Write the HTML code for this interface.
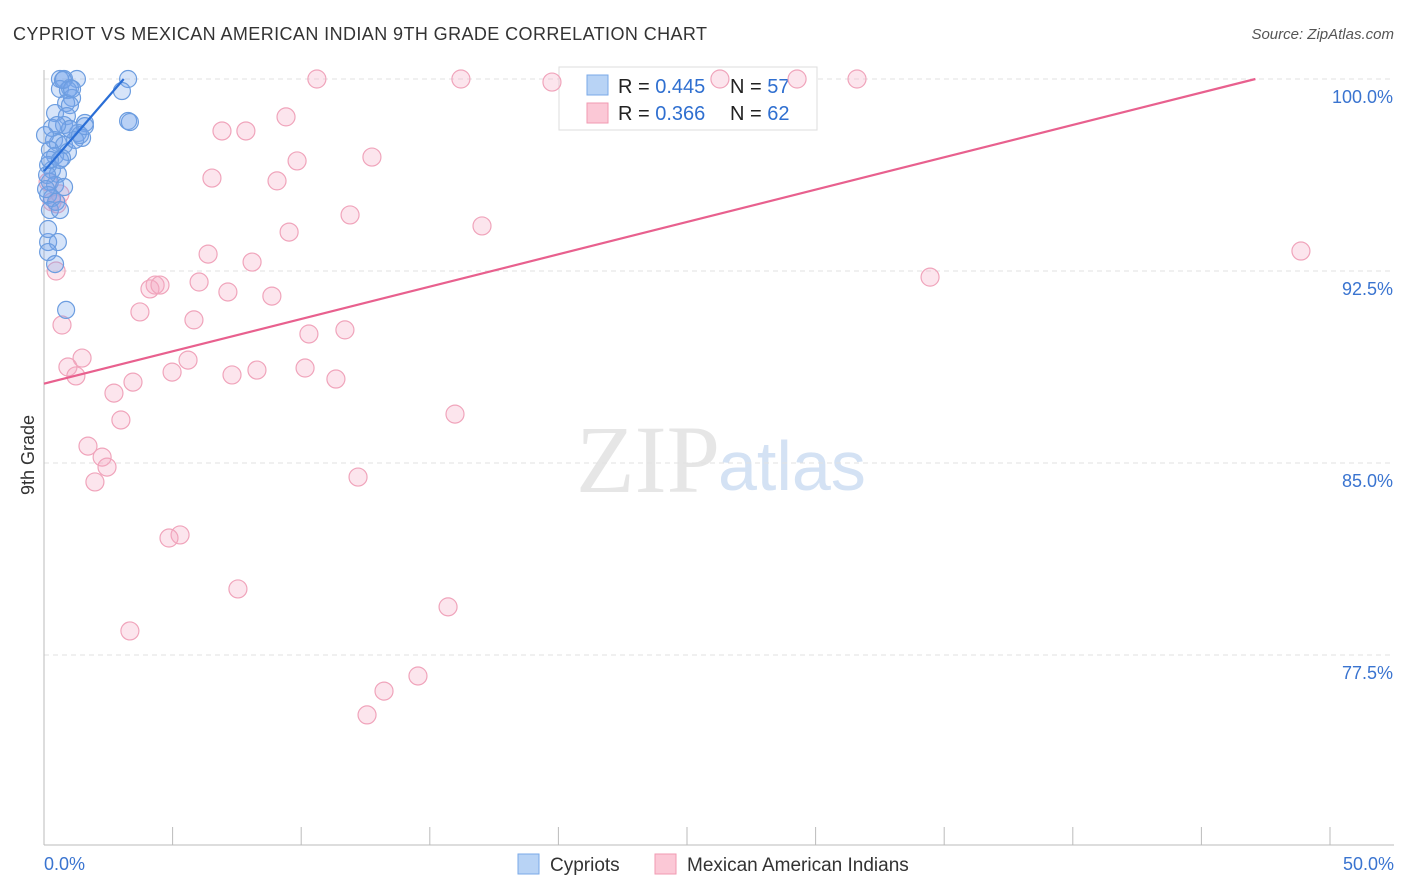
<!DOCTYPE html>
<html><head><meta charset="utf-8"><style>
body{margin:0;background:#fff;font-family:"Liberation Sans",sans-serif;}
#wrap{position:relative;width:1406px;height:892px;overflow:hidden;}
</style></head><body>
<div id="wrap">
<svg id="chart" width="1406" height="892" style="position:absolute;left:0;top:0;font-family:'Liberation Sans',sans-serif">
<text x="13" y="40" font-size="18" fill="#333" textLength="694">CYPRIOT VS MEXICAN AMERICAN INDIAN 9TH GRADE CORRELATION CHART</text>
<text x="1394" y="39" font-size="15" fill="#555" font-style="italic" text-anchor="end">Source: ZipAtlas.com</text>
<text x="720" y="492" font-size="96" fill="#e6e6e6" font-family="Liberation Serif,serif" text-anchor="end">ZIP</text>
<text x="718" y="490" font-size="70" fill="#d4e2f4">atlas</text>
<g id="grid"></g><g id="axes"></g>
<g>
<rect x="559" y="67" width="258" height="63" fill="#fff" stroke="#ddd"/>
<rect x="587" y="75" width="21" height="20" fill="#b8d3f5" stroke="#7aaae8"/>
<rect x="587" y="103" width="21" height="20" fill="#fbc8d6" stroke="#f09ab2"/>
<text x="618" y="93" font-size="20" fill="#222">R = <tspan fill="#2f6fd0">0.445</tspan></text>
<text x="730" y="93" font-size="20" fill="#222">N = <tspan fill="#2f6fd0">57</tspan></text>
<text x="618" y="120" font-size="20" fill="#222">R = <tspan fill="#2f6fd0"> 0.366</tspan></text>
<text x="730" y="120" font-size="20" fill="#222">N = <tspan fill="#2f6fd0">62</tspan></text>
</g>
<g id="pts"></g><g id="trend"></g>
<g>
<rect x="518" y="854" width="21" height="20" fill="#b8d3f5" stroke="#7aaae8"/>
<text x="550" y="871" font-size="19" fill="#333">Cypriots</text>
<rect x="655" y="854" width="21" height="20" fill="#fbc8d6" stroke="#f09ab2"/>
<text x="687" y="871" font-size="19" fill="#333">Mexican American Indians</text>
</g>
<text x="34" y="455" font-size="18" fill="#333" transform="rotate(-90 34 455)" text-anchor="middle">9th Grade</text>
</svg>
</div>
<script>
const yTicks=[100,92.5,85,77.5];
const yTickLabels=["100.0%","92.5%","85.0%","77.5%"];
const xTicks=[0,5,10,15,20,25,30,35,40,45,50];
const xEndLabels=["0.0%","50.0%"];
const blueX=[0.62,0.78,1.28,3.27,3.03,0.62,1.01,0.93,1.09,0.86,1.01,0.43,0.89,1.59,3.27,3.34,0.31,0.78,1.01,1.32,1.48,0.39,0.54,0.78,0.93,0.23,0.43,0.70,0.16,0.31,0.54,0.23,0.43,0.78,0.16,0.31,0.47,0.23,0.62,0.16,0.54,0.16,0.43,0.86,0.12,1.21,0.23,0.08,0.62,1.01,1.40,0.51,0.04,0.74,1.09,1.59,0.16];
const blueY=[100,100,100,100,99.53,99.61,99.65,99.57,99.26,99.06,98.98,98.67,98.55,98.28,98.36,98.32,98.09,98.20,98.05,97.89,97.70,97.62,97.50,97.42,97.15,97.23,97.0,96.91,96.64,96.45,96.29,95.98,95.86,95.78,95.47,95.35,95.20,94.88,94.88,93.63,93.63,93.24,92.77,90.98,96.25,97.62,96.84,95.70,96.84,98.05,97.81,98.20,97.81,99.96,99.61,98.16,94.14];
const pinkX=[10.61,16.21,19.75,26.28,29.28,31.61,9.41,6.92,7.85,9.84,12.75,6.53,9.06,11.90,17.03,9.53,6.38,8.09,48.87,34.45,6.03,4.32,4.12,4.51,7.15,8.86,3.73,5.83,10.30,11.70,0.70,1.48,0.93,5.60,1.24,4.98,7.31,8.28,10.15,11.35,3.46,2.72,2.99,15.98,1.71,2.26,2.45,1.98,12.21,5.29,4.86,7.54,15.71,3.34,14.54,13.22,12.56,0.47,0.31,0.51,0.62,0.16];
const pinkY=[100,100,99.88,100,100,100,98.52,97.97,97.97,96.80,96.95,96.13,96.02,94.69,94.26,94.02,93.16,92.85,93.28,92.26,92.07,91.95,91.80,91.95,91.68,91.52,90.90,90.59,90.04,90.20,90.39,89.10,88.75,89.02,88.40,88.55,88.44,88.63,88.71,88.28,88.16,87.73,86.68,86.91,85.66,85.23,84.84,84.26,84.45,82.19,82.07,80.08,79.38,78.44,76.68,76.09,75.16,92.5,95.20,95.12,95.51,95.98];
const blueTrend=[[0,96.4],[3.1,100]];
const pinkTrend=[[0,88.1],[47.1,100]];
const NS="http://www.w3.org/2000/svg";
const X0=44,X1=1330,Y100=79,PXPER=25.6;
const xs=v=>X0+(X1-X0)*v/50;
const ys=v=>Y100+(100-v)*PXPER;
function mk(tag,attrs,parent){const e=document.createElementNS(NS,tag);for(const k in attrs)e.setAttribute(k,attrs[k]);parent.appendChild(e);return e;}
const grid=document.getElementById('grid'),axes=document.getElementById('axes'),pts=document.getElementById('pts'),trend=document.getElementById('trend');
yTicks.forEach((t,i)=>{
 const l=mk('line',{x1:X0,x2:1394,y1:ys(t),y2:ys(t),stroke:'#e2e2e2','stroke-dasharray':'5,4'},grid);
 
 
 const tx=mk('text',{x:1393,y:ys(t)+24,'font-size':18,fill:'#3a74d0','text-anchor':'end'},axes);
 tx.textContent=yTickLabels[i];
 
 
});
const ax=mk('line',{x1:X0,x2:X0,y1:70,y2:845,stroke:'#bbb'},axes);


const bx=mk('line',{x1:X0,x2:1394,y1:845,y2:845,stroke:'#bbb'},axes);


xTicks.forEach(t=>{
 const l=mk('line',{x1:xs(t),x2:xs(t),y1:827,y2:845,stroke:'#bbb'},axes);
 
 
});
const xl0=mk('text',{x:44,y:870,'font-size':18,fill:'#3a74d0'},axes);xl0.textContent=xEndLabels[0];


const xl1=mk('text',{x:1394,y:870,'font-size':18,fill:'#3a74d0','text-anchor':'end'},axes);xl1.textContent=xEndLabels[1];


pinkX.forEach((v,i)=>{
 const c=mk('circle',{cx:xs(v),cy:ys(pinkY[i]),r:9,fill:'rgba(246,170,195,0.3)',stroke:'#f0a4bb','stroke-width':1.2},pts);
 
 
});
blueX.forEach((v,i)=>{
 const c=mk('circle',{cx:xs(v),cy:ys(blueY[i]),r:8.5,fill:'rgba(120,165,235,0.3)',stroke:'#6c9de0','stroke-width':1.2},pts);
 
 
});
const pl=mk('line',{x1:xs(pinkTrend[0][0]),y1:ys(pinkTrend[0][1]),x2:xs(pinkTrend[1][0]),y2:ys(pinkTrend[1][1]),stroke:'#e8608e','stroke-width':2.2},trend);


const bl=mk('line',{x1:xs(blueTrend[0][0]),y1:ys(blueTrend[0][1]),x2:xs(blueTrend[1][0]),y2:ys(blueTrend[1][1]),stroke:'#2a6ed6','stroke-width':2.2},trend);


</script>
</body></html>
